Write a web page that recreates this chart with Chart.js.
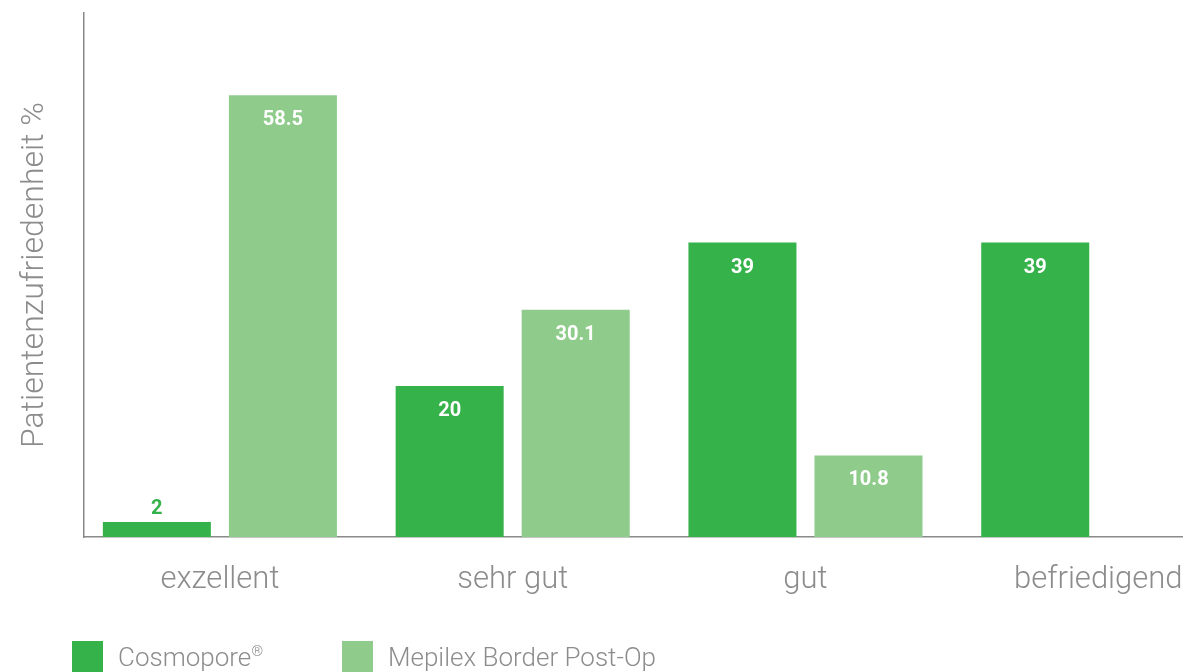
<!DOCTYPE html>
<html>
<head>
<meta charset="utf-8">
<script src="https://cdn.jsdelivr.net/npm/chart.js@4"></script>
<style>
  html, body { margin: 0; padding: 0; background: #fff; overflow: hidden; }
  #wrap { position: relative; width: 1185px; height: 672px; }
  .lg-box { position: absolute; width: 31px; height: 31px; top: 641px; }
  .lg-txt { position: absolute; top: 639px; font-family: Roboto, sans-serif; font-weight: 300;
            font-size: 26px; color: #8c8c8c; line-height: 36px; white-space: nowrap; }
  .lg-txt sup { font-size: 15px; vertical-align: 10px; line-height: 0; }
</style>
</head>
<body>
<div id="wrap">
  <canvas id="chart" width="1185" height="672"></canvas>
  <div class="lg-box" style="left:72px;background:#35b34a"></div>
  <div class="lg-txt" style="left:118px">Cosmopore<sup>®</sup></div>
  <div class="lg-box" style="left:342px;background:#8fcc8b"></div>
  <div class="lg-txt" style="left:388px">Mepilex Border Post-Op</div>
</div>
<script>
// chart data
const categories = ["exzellent", "sehr gut", "gut", "befriedigend"];
const cosmopore = [2, 20, 39, 39];
const mepilex = [58.5, 30.1, 10.8, null];

const GREEN = "#35b34a", LIGHT_GREEN = "#8fcc8b", INK = "#8c8c8c", AXIS = "#8a8a8a";

// value labels: white inside the bar top, or coloured above for short bars
const valueLabels = {
  id: "valueLabels",
  afterDatasetsDraw(chart) {
    const ctx = chart.ctx;
    ctx.save();
    ctx.font = "bold 20px Roboto, sans-serif";
    ctx.textAlign = "center";
    ctx.textBaseline = "middle";
    chart.data.datasets.forEach((ds, di) => {
      chart.getDatasetMeta(di).data.forEach((el, i) => {
        const v = ds.data[i].y;
        if (v == null) return;
        const h = el.base - el.y;
        if (h > 40) {
          ctx.fillStyle = "#ffffff";
          ctx.fillText(String(v), el.x, el.y + 25);
        } else {
          ctx.fillStyle = ds.backgroundColor;
          ctx.fillText(String(v), el.x, el.y - 13);
        }
      });
    });
    ctx.restore();
  }
};

new Chart(document.getElementById("chart"), {
  type: "bar",
  data: {
    datasets: [
      { label: "Cosmopore®", data: cosmopore.map((v, i) => ({ x: i, y: v })), backgroundColor: GREEN,
        categoryPercentage: 0.861, barPercentage: 0.857 },
      { label: "Mepilex Border Post-Op", data: mepilex.map((v, i) => ({ x: i, y: v })), backgroundColor: LIGHT_GREEN,
        categoryPercentage: 0.861, barPercentage: 0.857 }
    ]
  },
  options: {
    responsive: false, animation: false,
    layout: { padding: { left: 0, top: 13, right: 3, bottom: 73 } },
    scales: {
      x: {
        type: "linear", min: -0.4641, max: 3.286, offset: false,
        grid: { display: false, drawTicks: false },
        border: { display: true, color: AXIS, width: 1.5 },
        ticks: {
          stepSize: 1, includeBounds: false, autoSkip: false, maxRotation: 0, padding: 25,
          color: INK, font: { family: "Roboto", weight: "300", size: 31 },
          callback: (v) => categories[v] ?? ""
        },
        afterFit: (s) => { s.height = 62; s.paddingLeft = 0; s.paddingRight = 0; }
      },
      y: {
        min: 0, max: 69.4,
        grid: { display: false, drawTicks: false },
        border: { display: true, color: AXIS, width: 1.5 },
        ticks: { display: false },
        title: {
          display: true, text: "Patientenzufriedenheit %", color: INK,
          font: { family: "Roboto", weight: "300", size: 32 },
          padding: { top: 15.8, bottom: 29.8 }
        },
        afterFit: (s) => { s.width = 84; }
      }
    },
    plugins: { legend: { display: false }, tooltip: { enabled: false } }
  },
  plugins: [valueLabels]
});
</script>
</body>
</html>
